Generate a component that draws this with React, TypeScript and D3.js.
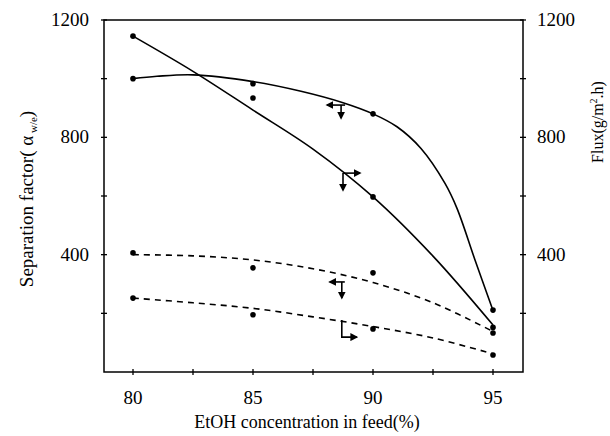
import React from 'react';
import * as d3 from 'd3';

// Fitted curves
const lineAFitX = [80, 82.5, 85, 87.5, 90, 92.5, 95];
const lineAFitY = [1145, 1025, 893, 760, 597, 395, 160];
const curveBFitX = [80, 81, 82.5, 85, 87, 88.75, 90, 91, 92, 93, 93.5, 94.25, 95];
const curveBFitY = [1000, 1008, 1013, 990, 957, 918, 880, 836, 762, 643, 558, 382, 210];
const dashCFitX = [80, 82.5, 85, 87.5, 90, 92.5, 95];
const dashCFitY = [400, 396, 382, 352, 305, 236, 138];
const dashDFitX = [80, 82.5, 85, 87.5, 90, 92.5, 95];
const dashDFitY = [252, 236, 217, 188, 155, 116, 62];

// Measured points
const pointX = [80, 85, 90, 95];
const pointsA = [1145, 934, 597, 152];
const pointsB = [1000, 983, 880, 211];
const pointsC = [406, 355, 338, 133];
const pointsD = [252, 195, 147, 58];

// Axis ticks
const xTicks = [80, 82.5, 85, 87.5, 90, 92.5, 95];
const xTickLabels = ['80', '85', '90', '95'];
const yTicks = [200, 400, 600, 800, 1000, 1200];
const yTickLabels = ['400', '800', '1200'];

// Axis indicator arrows: anchor x, anchor value
const arrowX = [88.67, 88.75, 88.7, 88.7];
const arrowY = [910, 678, 307, 177];

export default function App() {
  const W = 610, H = 436;
  const left = 104, right = 523, top = 20, bottom = 372;
  const x = d3.scaleLinear().domain([80, 95]).range([133, 493]);
  const y = d3.scaleLinear().domain([0, 1200]).range([bottom, top]);
  const line = d3.line<[number, number]>().x(d => x(d[0])).y(d => y(d[1])).curve(d3.curveCatmullRom.alpha(0.5));
  const zip = (a: number[], b: number[]) => a.map((v, i) => [v, b[i]] as [number, number]);
  const font = '"Liberation Serif", "Times New Roman", serif';

  const series = [
    { pts: pointsA, fit: zip(lineAFitX, lineAFitY), dash: undefined },
    { pts: pointsB, fit: zip(curveBFitX, curveBFitY), dash: undefined },
    { pts: pointsC, fit: zip(dashCFitX, dashCFitY), dash: '6 5' },
    { pts: pointsD, fit: zip(dashDFitX, dashDFitY), dash: '6 5' },
  ];

  const ax = arrowX.map(v => x(v));
  const ay = arrowY.map(v => y(v));

  return (
    <svg width={W} height={H} style={{ position: 'absolute', left: 0, top: 0, background: '#fff' }}>
      <defs>
        <marker id="ah" viewBox="0 0 10 10" refX="8" refY="5" markerWidth="5" markerHeight="5" orient="auto">
          <path d="M0,0 L10,5 L0,10 z" fill="#000" />
        </marker>
      </defs>
      <rect x={left} y={top} width={right - left} height={bottom - top} fill="none" stroke="#000" strokeWidth={1.5} />
      {xTicks.map(t => (
        <line key={'xt' + t} x1={x(t)} x2={x(t)} y1={bottom - 3} y2={bottom + 3} stroke="#000" strokeWidth={1.3} />
      ))}
      {yTicks.map(t => (
        <g key={'yt' + t}>
          <line x1={left - 3} x2={left + 3} y1={y(t)} y2={y(t)} stroke="#000" strokeWidth={1.3} />
          <line x1={right - 3} x2={right + 3} y1={y(t)} y2={y(t)} stroke="#000" strokeWidth={1.3} />
        </g>
      ))}
      {xTickLabels.map(l => (
        <text key={'xl' + l} x={x(+l)} y={404} textAnchor="middle" fontFamily={font} fontSize={19}>{l}</text>
      ))}
      {yTickLabels.map(l => (
        <g key={'yl' + l}>
          <text x={89} y={y(+l) + 6} textAnchor="end" fontFamily={font} fontSize={19}>{l}</text>
          <text x={537} y={y(+l) + 6} textAnchor="start" fontFamily={font} fontSize={19}>{l}</text>
        </g>
      ))}
      <text x={307} y={428} textAnchor="middle" fontFamily={font} fontSize={18}>EtOH concentration in feed(%)</text>
      <text transform="translate(33,199) rotate(-90)" textAnchor="middle" fontFamily={font} fontSize={19}>
        Separation  factor( α<tspan fontSize={11} dy={4}> w/e</tspan><tspan dy={-4}>)</tspan>
      </text>
      <text transform="translate(603,122) rotate(-90)" textAnchor="middle" fontFamily={font} fontSize={16}>
        Flux(g/m<tspan fontSize={10} dy={-6}>2</tspan><tspan dy={6}>.h)</tspan>
      </text>
      {series.map((s, i) => (
        <g key={'s' + i}>
          <path d={line(s.fit) || ''} fill="none" stroke="#000" strokeWidth={1.6} strokeDasharray={s.dash} />
          {s.pts.map((v, j) => (
            <circle key={j} cx={x(pointX[j])} cy={y(v)} r={2.8} fill="#000" />
          ))}
        </g>
      ))}
      {/* arrows */}
      <path d={`M${ax[0] + 4},${ay[0]} H${ax[0] - 14}`} stroke="#000" strokeWidth={1.6} markerEnd="url(#ah)" />
      <path d={`M${ax[0]},${ay[0]} V${ay[0] + 13}`} stroke="#000" strokeWidth={1.6} markerEnd="url(#ah)" />
      <path d={`M${ax[1]},${ay[1]} H${ax[1] + 17}`} stroke="#000" strokeWidth={1.6} markerEnd="url(#ah)" />
      <path d={`M${ax[1]},${ay[1]} V${ay[1] + 17}`} stroke="#000" strokeWidth={1.6} markerEnd="url(#ah)" />
      <path d={`M${ax[2] + 3},${ay[2]} H${ax[2] - 12}`} stroke="#000" strokeWidth={1.6} markerEnd="url(#ah)" />
      <path d={`M${ax[2]},${ay[2]} V${ay[2] + 16}`} stroke="#000" strokeWidth={1.6} markerEnd="url(#ah)" />
      <path d={`M${ax[3]},${ay[3]} V${ay[3] + 17} H${ax[3] + 15}`} fill="none" stroke="#000" strokeWidth={1.6} markerEnd="url(#ah)" />
    </svg>
  );
}
